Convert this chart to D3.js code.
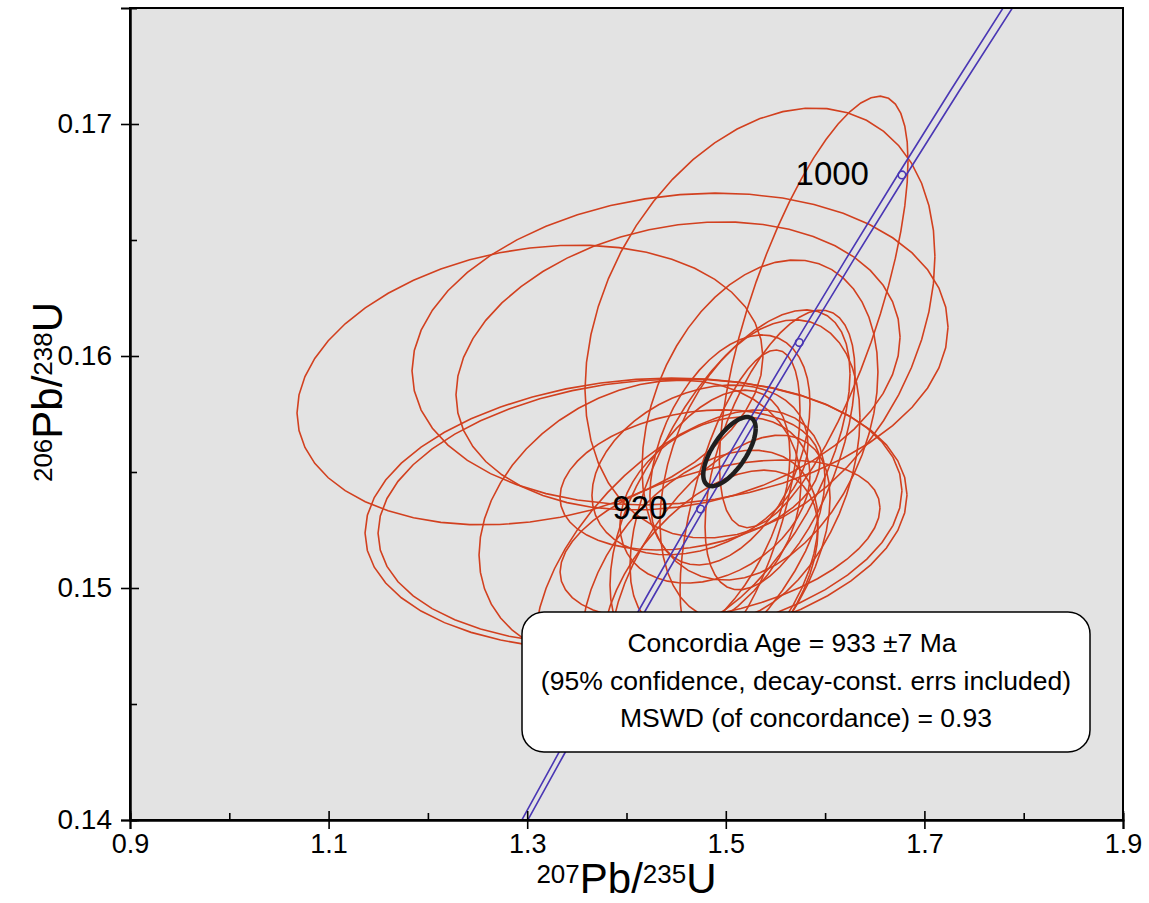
<!DOCTYPE html>
<html>
<head>
<meta charset="utf-8">
<script src="https://cdn.jsdelivr.net/npm/d3@7"></script>
<style>
  body { margin: 0; background: #fff; }
  svg { display: block; }
  text { font-family: "Liberation Sans", Arial, sans-serif; fill: #000; }
</style>
</head>
<body>
<div id="chart"></div>
<script>

// concordia curve (age in Ma) with its decay-constant band half width
const concAge = [840, 860, 880, 900, 920, 940, 960, 980, 1000, 1020, 1040, 1060];
const conc207 = [1.28708, 1.33257, 1.37897, 1.42629, 1.47456, 1.52378, 1.57398, 1.62519, 1.67741, 1.73067, 1.78499, 1.84039];
const conc206 = [0.13918, 0.142716, 0.146266, 0.149828, 0.153400, 0.156985, 0.160580, 0.164186, 0.167803, 0.171433, 0.175072, 0.178724];
const concErr = [0.0030, 0.0031, 0.0032, 0.0034, 0.0035, 0.0037, 0.0039, 0.0041, 0.0043, 0.0045, 0.0047, 0.0049];
const markAges = [880, 920, 960, 1000];
const labelAges = [920, 1000];

// spot analyses, 2 sigma error ellipses
const ellX   = [1.3028, 1.4539, 1.4519, 1.5885, 1.5344, 1.4096, 1.4136, 1.4136, 1.4539, 1.4740, 1.4841, 1.4942, 1.4740, 1.4891, 1.5344, 1.5042, 1.4639, 1.5344, 1.5143, 1.4942, 1.5546, 1.5143, 1.4740];
const ellY   = [0.15875, 0.16030, 0.15957, 0.16190, 0.16142, 0.15319, 0.15328, 0.15293, 0.15121, 0.15034, 0.14991, 0.15056, 0.15509, 0.15379, 0.15724, 0.15595, 0.15466, 0.15509, 0.15379, 0.15207, 0.15595, 0.15509, 0.15293];
const ellSx  = [0.2346, 0.2699, 0.2236, 0.0950, 0.1762, 0.2729, 0.2638, 0.1621, 0.1460, 0.1188, 0.1088, 0.1108, 0.1088, 0.0957, 0.1188, 0.0806, 0.1309, 0.1007, 0.0604, 0.1611, 0.0755, 0.1108, 0.0906];
const ellSy  = [0.00603, 0.00672, 0.00621, 0.00930, 0.00927, 0.00586, 0.00573, 0.00603, 0.00647, 0.00560, 0.00517, 0.00603, 0.00366, 0.00358, 0.00690, 0.00496, 0.00302, 0.00647, 0.00647, 0.00345, 0.00603, 0.00690, 0.00560];
const ellRho = [0.20, 0.14, 0.20, 0.70, 0.31, 0.14, 0.16, 0.25, 0.55, 0.45, 0.50, 0.55, 0.30, 0.30, 0.30, 0.40, 0.25, 0.35, 0.60, 0.40, 0.55, 0.60, 0.50];

// concordia age ellipse
const ageX = 1.5037, ageY = 0.15588, ageSx = 0.0264, ageSy = 0.00149, ageRho = 0.67;

const xTicks = [0.9, 1.1, 1.3, 1.5, 1.7, 1.9];
const xMinor = [1.0, 1.2, 1.4, 1.6, 1.8];
const yTicks = [0.14, 0.15, 0.16, 0.17];
const yMinor = [0.145, 0.155, 0.165];

const boxLines = [
  "Concordia Age = 933 \u00b17 Ma",
  "(95% confidence, decay-const. errs included)",
  "MSWD (of concordance) = 0.93"
];

const W = 1149, H = 903;
const x = d3.scaleLinear().domain([0.9, 1.9]).range([130, 1123]);
const y = d3.scaleLinear().domain([0.14, 0.175]).range([820, 8]);

const svg = d3.select('#chart').append('svg')
  .attr('width', W)
  .attr('height', H);

svg.append('defs').append('clipPath').attr('id', 'plotclip')
  .append('rect')
  .attr('x', x(0.9)).attr('y', y(0.175))
  .attr('width', x(1.9) - x(0.9)).attr('height', y(0.14) - y(0.175));

svg.append('rect')
  .attr('x', x(0.9)).attr('y', y(0.175))
  .attr('width', x(1.9) - x(0.9)).attr('height', y(0.14) - y(0.175))
  .attr('fill', '#e3e3e3');

const plot = svg.append('g').attr('clip-path', 'url(#plotclip)');

function ellPts(cx, cy, sx, sy, r, n) {
  return d3.range(n + 1).map(i => {
    const t = 2 * Math.PI * i / n;
    return [cx + sx * Math.cos(t), cy + sy * (r * Math.cos(t) + Math.sqrt(1 - r * r) * Math.sin(t))];
  });
}

const line = d3.line().x(d => x(d[0])).y(d => y(d[1]));

plot.selectAll('path.spot')
  .data(ellX)
  .enter()
  .append('path')
  .attr('class', 'spot')
  .attr('d', (d, i) => line(ellPts(ellX[i], ellY[i], ellSx[i], ellSy[i], ellRho[i], 48)))
  .attr('fill', 'none')
  .attr('stroke', '#d2401f')
  .attr('stroke-width', 1.6);

// concordia band
[-1, 1].forEach(s => {
  plot.append('path')
    .attr('d', line(concAge.map((a, i) => [conc207[i] + s * concErr[i], conc206[i]])))
    .attr('fill', 'none')
    .attr('stroke', '#4a37b4')
    .attr('stroke-width', 1.6);
});

// age marks
plot.selectAll('circle.mark')
  .data(markAges)
  .enter()
  .append('circle')
  .attr('class', 'mark')
  .attr('cx', a => x(conc207[concAge.indexOf(a)]))
  .attr('cy', a => y(conc206[concAge.indexOf(a)]))
  .attr('r', 3.8)
  .attr('fill', 'none')
  .attr('stroke', '#4a37b4')
  .attr('stroke-width', 1.6);

plot.selectAll('text.agelab')
  .data(labelAges)
  .enter()
  .append('text')
  .attr('class', 'agelab')
  .attr('x', a => x(conc207[concAge.indexOf(a)]) - 33)
  .attr('y', a => y(conc206[concAge.indexOf(a)]) + 10)
  .attr('text-anchor', 'end')
  .style('font-size', '33px')
  .text(a => a);

plot.append('path')
  .attr('d', line(ellPts(ageX, ageY, ageSx, ageSy, ageRho, 72)))
  .attr('fill', 'none')
  .attr('stroke', '#1e1e1e')
  .attr('stroke-width', 4.5);

// result box
const box = svg.append('g');
box.append('rect')
  .attr('x', 522).attr('y', 612)
  .attr('width', 568).attr('height', 140)
  .attr('rx', 22).attr('ry', 22)
  .attr('fill', '#fff')
  .attr('stroke', '#000')
  .attr('stroke-width', 1.5);

box.selectAll('text')
  .data(boxLines)
  .enter()
  .append('text')
  .attr('x', (d, i) => i === 0 ? 792 : 806)
  .attr('y', (d, i) => 652 + i * 37.5)
  .attr('text-anchor', 'middle')
  .style('font-size', '26.5px')
  .text(d => d);

// frame
svg.append('rect')
  .attr('x', x(0.9)).attr('y', y(0.175))
  .attr('width', x(1.9) - x(0.9)).attr('height', y(0.14) - y(0.175))
  .attr('fill', 'none')
  .attr('stroke', '#000')
  .attr('stroke-width', 2);

// axes
const gx = svg.append('g').attr('transform', `translate(0,${y(0.14)})`)
  .call(d3.axisBottom(x).tickValues(xTicks).tickSize(9).tickPadding(5).tickFormat(d3.format('.1f')));
gx.selectAll('.tick line').attr('y1', -9).attr('stroke-width', 1.6);
const gxm = svg.append('g').attr('transform', `translate(0,${y(0.14)})`)
  .call(d3.axisBottom(x).tickValues(xMinor).tickSize(-7).tickFormat(''));
gxm.selectAll('.tick line').attr('stroke-width', 1.6);

const gy = svg.append('g').attr('transform', `translate(${x(0.9)},0)`)
  .call(d3.axisLeft(y).tickValues(yTicks).tickSize(9).tickPadding(9).tickFormat(d3.format('.2f')));
gy.selectAll('.tick line').attr('x1', 9).attr('stroke-width', 1.6);
const gym = svg.append('g').attr('transform', `translate(${x(0.9)},0)`)
  .call(d3.axisLeft(y).tickValues(yMinor).tickSize(-7).tickFormat(''));
gym.selectAll('.tick line').attr('stroke-width', 1.6);

[gx, gxm, gy, gym].forEach(g => {
  g.select('.domain').attr('stroke-width', 2);
  g.selectAll('text')
    .style('font-size', '27px')
    .style('font-family', '"Liberation Sans", Arial, sans-serif')
    .attr('fill', '#000');
});
gy.selectAll('text').style('font-size', '28px');

// axis titles
function ratioLabel(sel, sup1, sup2) {
  sel.append('tspan').style('font-size', '26px').attr('dy', -10).text(sup1);
  sel.append('tspan').style('font-size', '42px').attr('dy', 10).text('Pb/');
  sel.append('tspan').style('font-size', '26px').attr('dy', -10).text(sup2);
  sel.append('tspan').style('font-size', '42px').attr('dy', 10).text('U');
}

const xt = svg.append('text')
  .attr('x', (x(0.9) + x(1.9)) / 2)
  .attr('y', 893)
  .attr('text-anchor', 'middle');
ratioLabel(xt, '207', '235');

const yt = svg.append('text')
  .attr('transform', `translate(62,392) rotate(-90)`)
  .attr('text-anchor', 'middle');
ratioLabel(yt, '206', '238');

</script>
</body>
</html>
